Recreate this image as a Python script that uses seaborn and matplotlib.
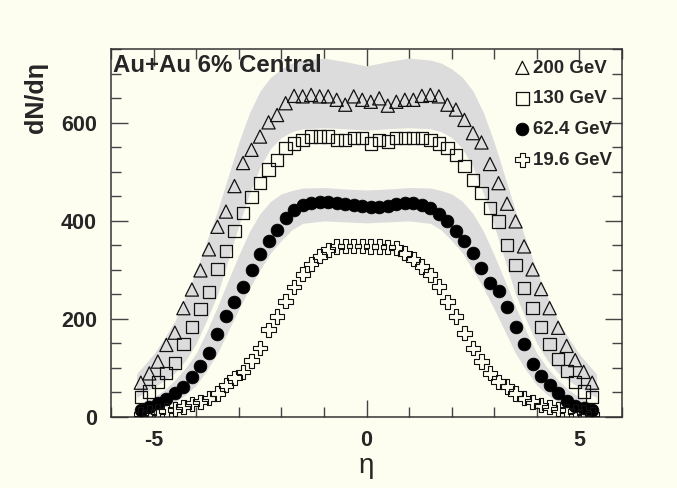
import numpy as np
import pandas as pd
import matplotlib
matplotlib.use("Agg")
import matplotlib.pyplot as plt
import seaborn as sns
from matplotlib.ticker import MultipleLocator, FixedLocator

# ---------------- data ----------------
eta = [-5.3, -5.1, -4.9, -4.7, -4.5, -4.3, -4.1, -3.9, -3.7, -3.5,
       -3.3, -3.1, -2.9, -2.7, -2.5, -2.3, -2.1, -1.9, -1.7, -1.5,
       -1.3, -1.1, -0.9, -0.7, -0.5, -0.3, -0.1,
       0.1, 0.3, 0.5, 0.7, 0.9, 1.1, 1.3, 1.5, 1.7, 1.9,
       2.1, 2.3, 2.5, 2.7, 2.9, 3.1, 3.3, 3.5, 3.7, 3.9,
       4.1, 4.3, 4.5, 4.7, 4.9, 5.1, 5.3]

dndeta_200 = [70, 89, 113, 147, 172, 222, 260, 299, 342, 388,
              419, 471, 518, 545, 572, 601, 616, 640, 655, 654,
              657, 654, 654, 647, 637, 654, 647,
              643, 650, 635, 643, 647, 647, 655, 657, 654, 637,
              627, 606, 579, 560, 516, 477, 435, 399, 348, 301,
              261, 222, 182, 145, 116, 92, 70]

dndeta_130 = [41, 52, 71, 90, 110, 149, 184, 220, 255, 302,
              339, 380, 416, 449, 477, 505, 524, 548, 558, 565,
              572, 572, 572, 565, 565, 569, 569,
              558, 565, 562, 569, 569, 569, 569, 565, 558, 548,
              535, 512, 484, 457, 426, 399, 351, 310, 263, 222,
              184, 149, 118, 94, 72, 52, 41]

dndeta_62 = [14, 21, 28, 36, 48, 62, 82, 104, 131, 169,
             205, 235, 266, 300, 333, 359, 381, 405, 422, 433,
             437, 439, 439, 437, 435, 433, 431,
             428, 429, 431, 435, 437, 436, 433, 426, 414, 399,
             380, 358, 335, 303, 274, 256, 224, 184, 148, 108,
             84, 65, 48, 33, 22, 18, 14]

dndeta_19 = [6, 9, 11, 14, 16, 21, 27, 31, 38, 48,
             65, 80, 92, 115, 141, 178, 205, 236, 265, 291,
             312, 328, 341, 348, 349, 349, 349,
             348, 348, 347, 345, 334, 322, 307, 290, 266, 235,
             205, 171, 140, 113, 89, 72, 62, 48, 38, 31,
             24, 20, 16, 13, 11, 9, 6]

# systematic-error bands (edges)
band_eta = [-5.4, -5.0, -4.75, -4.5, -4.25, -4.0, -3.75, -3.5, -3.25, -3.0,
            -2.75, -2.5, -2.25, -2.0, -1.75, -1.5, -1.0, -0.5, 0.0,
            0.5, 1.0, 1.5, 1.75, 2.0, 2.25, 2.5, 2.75, 3.0, 3.25, 3.5,
            3.75, 4.0, 4.25, 4.5, 4.75, 5.0, 5.4]
band200_hi = [88, 128, 160, 196, 245, 298, 360, 420, 490, 560,
              620, 665, 693, 710, 722, 728, 732, 725, 716,
              725, 732, 728, 722, 710, 693, 665, 620, 560, 490, 420,
              360, 298, 245, 196, 160, 128, 88]
band200_lo = [40, 60, 74, 90, 115, 150, 198, 250, 320, 390,
              455, 510, 548, 570, 582, 588, 590, 588, 585,
              588, 590, 588, 582, 570, 548, 510, 455, 390, 320, 250,
              198, 150, 115, 90, 74, 60, 40]
band62_hi = [25, 40, 55, 75, 100, 130, 175, 225, 278, 330,
             378, 415, 440, 455, 462, 467, 468, 465, 463,
             465, 468, 467, 462, 455, 440, 415, 378, 330, 278, 225,
             175, 130, 100, 75, 55, 40, 25]
band62_lo = [8, 15, 22, 30, 45, 65, 95, 130, 175, 220,
             262, 300, 335, 360, 382, 395, 400, 398, 396,
             398, 400, 395, 382, 360, 335, 300, 262, 220, 175, 130,
             95, 65, 45, 30, 22, 15, 8]

series_labels = ["200 GeV", "130 GeV", "62.4 GeV", "19.6 GeV"]
title_text = "Au+Au 6% Central"
xticks_major = [-5, 0, 5]
yticks_major = [0, 200, 400, 600]

# ---------------- styling ----------------
sns.set_theme(style="ticks")
plt.rcParams['font.family'] = ['Liberation Sans', 'DejaVu Sans']
plt.rcParams['axes.unicode_minus'] = False

BG = "#fdfdf0"
BAND = "#dcdcdc"
INK = "#111111"

fig = plt.figure(figsize=(6.77, 4.88), dpi=100, facecolor=BG)
ax = fig.add_axes([111 / 677, 1 - 417 / 488, 511 / 677, (417 - 49.3) / 488])
ax.set_facecolor(BG)

ax.fill_between(band_eta, band200_lo, band200_hi, color=BAND, lw=0, zorder=1)
ax.fill_between(band_eta, band62_lo, band62_hi, color=BAND, lw=0, zorder=1)

df = pd.DataFrame({"eta": eta, "200": dndeta_200, "130": dndeta_130,
                   "62": dndeta_62, "19": dndeta_19})

sns.scatterplot(data=df, x="eta", y="200", marker="^", s=90, facecolors="none",
                edgecolor=INK, linewidth=0.9, label=series_labels[0], ax=ax, zorder=3)
sns.scatterplot(data=df, x="eta", y="130", marker="s", s=78, facecolors="none",
                edgecolor=INK, linewidth=0.9, label=series_labels[1], ax=ax, zorder=3)
sns.scatterplot(data=df, x="eta", y="62", marker="o", s=85, color="black",
                edgecolor="black", linewidth=0.5, label=series_labels[2], ax=ax, zorder=3)
sns.scatterplot(data=df, x="eta", y="19", marker="P", s=105, facecolors="none",
                edgecolor=INK, linewidth=0.8, label=series_labels[3], ax=ax, zorder=3)

ax.set_xlim(-6, 6)
ax.set_ylim(0, 750)
ax.xaxis.set_major_locator(FixedLocator(xticks_major))
ax.xaxis.set_minor_locator(MultipleLocator(1))
ax.yaxis.set_major_locator(FixedLocator(yticks_major))
ax.yaxis.set_minor_locator(MultipleLocator(50))

ax.tick_params(which="both", direction="in", top=True, right=True,
               color="#444444", width=1.0)
ax.tick_params(which="major", length=12)
ax.tick_params(which="minor", length=7)
ax.tick_params(axis="x", which="major", pad=9, labelsize=15.5)
ax.tick_params(axis="y", which="major", pad=10, labelsize=15.5)
for lab in ax.get_xticklabels() + ax.get_yticklabels():
    lab.set_fontweight("bold")

for sp in ax.spines.values():
    sp.set_color("#333333")
    sp.set_linewidth(1.1)

ax.set_xlabel("η", fontsize=20, labelpad=2)
ax.set_ylabel("dN/dη", fontsize=18, fontweight="bold", loc="top")
ax.yaxis.set_label_coords(-0.124, 0.965)

ax.text(0.004, 0.939, title_text, transform=ax.transAxes, fontsize=17.3,
        fontweight="bold", ha="left", va="baseline", zorder=5)

leg = ax.legend(loc="upper right", frameon=False,
                prop={"weight": "bold", "size": 13.5},
                handletextpad=0.05, labelspacing=0.72, borderaxespad=0.25,
                handlelength=1.0, borderpad=0.3)

fig.savefig("out.png", dpi=100, facecolor=BG)
